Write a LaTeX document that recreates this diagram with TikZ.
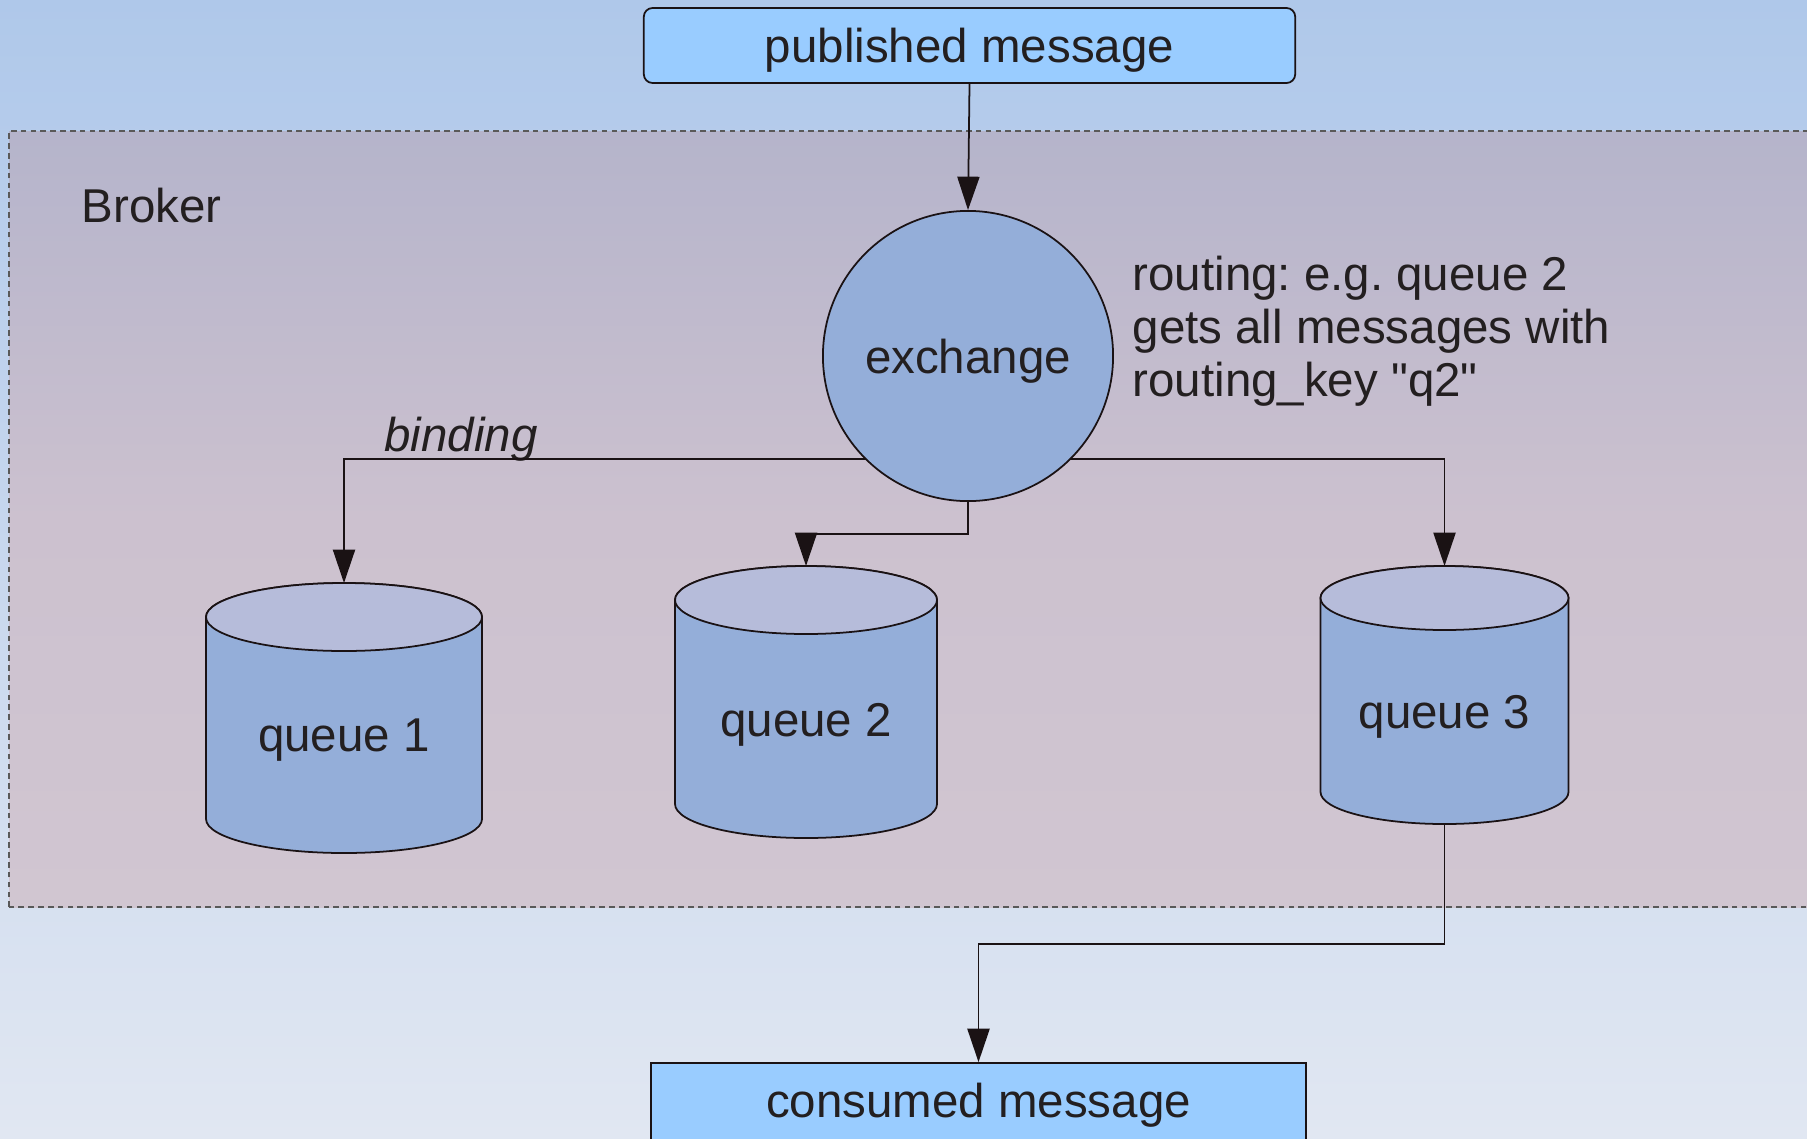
\documentclass[tikz,border=0pt]{standalone}
\usepackage{fontspec}
\setmainfont{Liberation Sans}
\newfontfamily\rawfont{Liberation Sans}[Ligatures=TeXOff]
\usetikzlibrary{arrows.meta,calc}
\frenchspacing
\definecolor{bgtop}{HTML}{AFC8EA}
\definecolor{bgbot}{HTML}{E1E7F2}
\definecolor{brtop}{HTML}{B5B4CB}
\definecolor{brmid}{HTML}{CCC1CF}
\definecolor{brbot}{HTML}{D1C6D1}
\definecolor{msgfill}{HTML}{99CCFF}
\definecolor{exfill}{HTML}{94AED9}
\definecolor{qbody}{HTML}{94AED9}
\definecolor{qtop}{HTML}{B6BCDA}
\definecolor{linec}{HTML}{1A1214}
\definecolor{txtc}{HTML}{231F20}
\newcommand\drawqueue[8]{%
  \path[draw=linec, line width=0.5pt, fill=qbody] ({#2-#5},{#3-#6}) -- ({#2-#5},{#4+#6})
    arc[start angle=180, end angle=360, x radius=#5, y radius=#6]
    -- ({#2+#5},{#3-#6})
    arc[start angle=0, end angle=180, x radius=#5, y radius=#6] -- cycle;
  \path[draw=linec, line width=0.5pt, fill=qtop] (#2,{#3-#6}) ellipse [x radius=#5, y radius=#6];
  \node[txt] (#1) at (#2,#7) {#8};
  \coordinate (#1top) at (#2,#3);
  \coordinate (#1bot) at (#2,#4);
}
\begin{document}
\begin{tikzpicture}[x=0.01cm,y=0.01cm,
  txt/.style={text=txtc, font=\fontsize{13.5pt}{15.1pt}\selectfont, inner sep=0pt},
  msgbox/.style={draw=linec, line width=0.5pt, fill=msgfill, text=txtc,
    font=\fontsize{13.5pt}{15.1pt}\selectfont, inner sep=0pt},
  lowered/.style={text height=12.6pt, text depth=2.8pt},
  conn/.style={draw=linec, line width=0.5pt, -{Triangle[length=9.5pt, width=6.3pt]}},
  plain/.style={draw=linec, line width=0.5pt}]
\useasboundingbox (0,0) rectangle (1807,1138);
\clip (0,0) rectangle (1807,1138);
% background
\shade[top color=bgtop, bottom color=bgbot] (0,0) rectangle (1807,1138);
% broker area
\shade[top color=brtop, bottom color=brbot, middle color=brmid] (9,231) rectangle (1840,1007);
\draw[draw=black!65, line width=0.45pt, dash pattern=on 1.6pt off 1.2pt] (9,231) rectangle (1840,1007);
\node[txt, anchor=west] (broker) at (81,932) {Broker};
% nodes
\node[msgbox, lowered, rounded corners=2.5pt, minimum width=6.51cm, minimum height=0.75cm] (pub) at (969.5,1092.5) {published message};
\node[msgbox, text height=11.2pt, text depth=2.8pt, minimum width=6.55cm, minimum height=0.8cm] (con) at (978.5,35) {consumed message};
\node[circle, lowered, draw=linec, line width=0.5pt, fill=exfill, minimum size=2.9cm, inner sep=0pt,
  text=txtc, font=\fontsize{13.5pt}{15.1pt}\selectfont] (ex) at (968,782) {exchange};
\node[txt, anchor=west, align=left] (routing) at (1132,807) {routing: e.g. queue 2\\gets all messages with\\routing\_key {\rawfont "q2"}};
\node[txt, font=\fontsize{13.5pt}{15.1pt}\selectfont\itshape] (binding) at (461,699) {binding};
% queues
\drawqueue{q1}{344}{555}{285}{138}{34}{398}{queue 1}
\drawqueue{q2}{806}{572}{300}{131}{34}{413}{queue 2}
\drawqueue{q3}{1444.5}{572}{314}{124}{32}{421}{queue 3}
% connectors
\draw[conn] (pub.south) -- (ex.north);
\coordinate (exl) at ($(ex.center)+(-102,-103)$);
\coordinate (exr) at ($(ex.center)+(102,-103)$);
\draw[conn] (exl) -| (q1top);
\draw[conn] (exr) -| (q3top);
\coordinate (mid1) at (968,604);
\coordinate (mid2) at (806,604);
\draw[conn] (ex.south) -- (mid1) -- (mid2) -- (q2top);
\coordinate (low1) at (1444.5,194);
\coordinate (low2) at (978.5,194);
\draw[conn] (q3bot) -- (low1) -- (low2) -- (con.north);
\end{tikzpicture}
\end{document}
